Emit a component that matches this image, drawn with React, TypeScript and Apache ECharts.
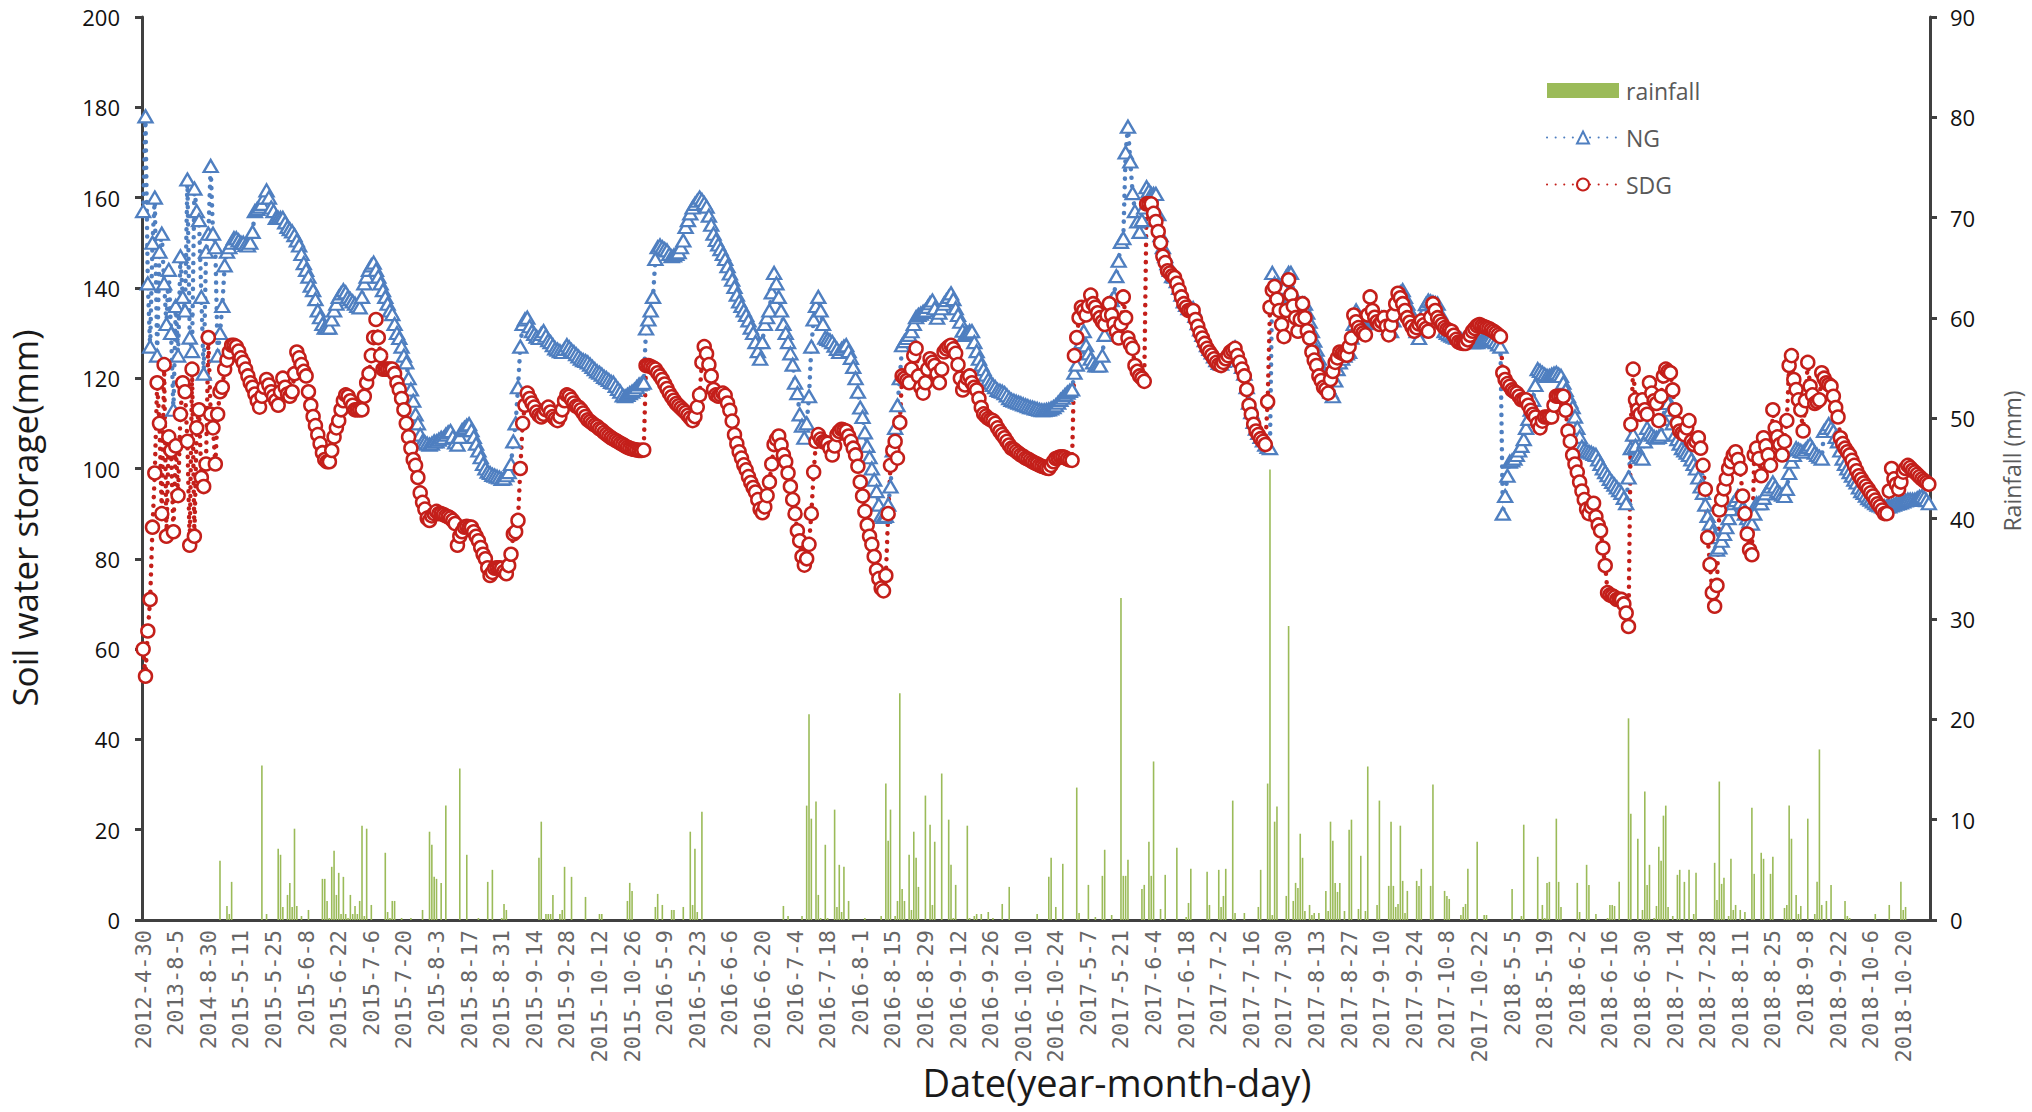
import React, { useEffect, useRef } from "react";
import * as echarts from "echarts";

// ---------- categories ----------
const earlyDates = [
  "2012-4-30", "2012-5-15", "2012-5-30", "2012-6-15", "2012-6-30", "2012-7-15", "2012-7-30",
  "2012-8-15", "2012-8-30", "2012-9-15", "2012-9-30", "2012-10-15", "2012-10-30", "2013-7-30",
  "2013-8-5", "2013-8-10", "2013-8-15", "2013-8-20", "2013-8-25", "2013-8-30", "2013-9-5",
  "2013-9-10", "2013-9-15", "2013-9-20", "2013-9-25", "2013-9-30", "2013-10-5", "2013-10-10",
  "2014-8-30", "2014-9-10", "2014-9-20", "2014-9-30",
];
const seasonYears = [2015, 2016, 2017, 2018];
const seasonMonths = [[5, 31], [6, 30], [7, 31], [8, 31], [9, 30], [10, 31]];
function seasonDates(year: number): string[] {
  const out: string[] = [];
  for (const [m, n] of seasonMonths) for (let d = 1; d <= n; d++) out.push(`${year}-${m}-${d}`);
  return out;
}
const dates: string[] = [...earlyDates, ...seasonYears.flatMap(seasonDates)];

// ---------- NG soil water storage (mm) ----------
const ngEarly = [157,178,141,127,150,160,125,148,152,141,132,144,130,113,136,125,147,138,135,164,129,126,162,157,155,138,121,148,152,167,152,149];
const ng2015 = [
  125,130,136,145,148,149,150,151,151,150.5,
  150,150,149.5,149.4,150,152.4,157,157.5,158,158.6,
  160,161.6,160,157.8,157,155.5,155.5,155.5,155.5,154.5,
  153.5,153,152.5,151.7,150.5,149.4,147.5,145.5,144,142.5,
  140.5,139.5,137.5,135,133.5,132,131.2,131.2,131.2,133,
  135,136.5,138,138.8,139.5,139,138,137.5,137,136.5,
  136,135.7,138,141,142.5,144,145,145.6,144,142.5,
  141,139.5,138,136.5,135,134.2,132,130,128.9,127,
  125,123.5,120,117.5,115,112,110,107.5,106,105.8,
  105.5,105.3,105.5,106,106,106.4,106.8,106.8,107.5,108,
  108.3,107,105.8,105.3,107,108.5,109,109.5,109.8,108.5,
  107,105.5,104,102.5,101,100,99.3,99,98.6,98.4,
  98.2,98,97.7,97.8,98.5,99.2,101,106,110,118,
  127,132,133,133.4,131.5,130.4,129.8,129.2,128.9,129.8,
  130.4,129.4,128.4,128,127.3,126.6,126.3,126,125.8,126.5,
  127.3,126.8,126.2,125.8,125.3,124.8,124.3,124,123.8,123.5,
  123,122.5,122,121.5,121.2,120.8,120.3,120,119.6,119.2,
  119,118.3,117.6,117,116.2,116,116.3,116.7,117,117.4,
  118,118.6,118.8,119,
];
const ng2016 = [
  131,133,135,138,146.4,149,149.4,149,148.6,148.3,
  147.5,147,147.2,147.5,147.9,149,150.5,153.5,155,156.5,
  157.8,158.6,159.3,160,159.5,158.8,158,156,154,152,
  150.6,149.6,148.6,147.5,146.4,144.8,143.2,141.8,140.2,138.5,
  137,136,135,134,132.8,131.2,130,128,126,124.3,
  128,132,133.5,135,139,143.3,141,138,135,132,
  130,128,125.5,123,119,116.7,112,109.5,106.8,110,
  116,127,133,136,138,135,132,129,128.7,128.4,
  128,127.2,126.5,125.8,126.5,127,127.3,126,124.5,122.5,
  120,117,113.5,111.4,108,105,102.5,100,97.5,95,
  92,89.6,89.3,89.5,92,96,104,109,114,120,
  127.3,128.2,128.9,129.6,130.4,132,133.5,134,134.3,134.7,
  135,135.8,136.6,137.2,135.5,133.4,134.5,135.5,136.5,137.3,
  138,138.8,137.5,135.5,134,132.5,130.5,129.6,130,130.4,
  130.4,128,126,124.3,123,122,120.8,119.7,119,118.5,
  118,117.4,117.2,117,116.7,116.2,115.6,115.2,115,114.8,
  114.6,114.4,114.2,114,113.8,113.6,113.5,113.3,113.2,113,
  112.9,112.9,113,113.1,113.3,113.6,114,114.6,115.2,115.7,
  116.3,116.8,117.2,117.5,
];
const ng2017 = [
  121.2,123,125.8,128,130.4,127.3,125.5,124.3,123.5,122.8,
  122.8,122.8,125,129.6,133,136.5,137.3,138,142.6,146,
  150.2,151,170,175.7,168,161,157,154.7,152.4,155,
  157.8,162.3,161.5,160.8,160.8,160.8,156.3,151.7,149,147,
  145.5,144,142.6,142.5,141.5,140,138.5,137,136.2,135.5,
  135.5,135.5,133.8,132.2,130.8,129.6,128.4,127.3,126.5,125.7,
  124.8,124,123.4,123.2,123.8,124.6,125.3,126,126.5,126.8,
  125.5,124,122.5,121,118,114.6,112.5,110.3,108.8,107.9,
  107,106.2,105.3,104.8,104.5,143.3,141,139.5,138,136.5,
  140,142.5,143.3,143.3,138.8,134,135,136,136.5,136.5,
  134.5,132.5,130.4,128.3,126.3,124.3,122.5,120.7,119,118,
  117,116,119.5,122,123.5,124.3,125,125.5,125.8,129,
  132,135,134,133,132,132.2,132.4,132.6,132.7,132.9,
  133.1,133.3,133.4,132.6,131.8,131.1,130.4,132.8,135,137.5,
  139,139.5,138,136.5,135,134,132,130.4,128.9,131.6,
  134.4,136.4,137.2,137,136.8,136.6,136.5,134.5,132.5,130.4,
  130,129.7,129.4,129.2,129,128.9,128.7,128.5,128.3,128.2,
  128.1,128,128,128,128.2,128.4,128.6,128.8,128.9,128.9,
  128.5,128,127.5,127,
];
const ng2018 = [
  90,93.9,98.4,101.5,101.8,102.2,103,104,105,106.5,
  109,111,113,115.2,118.5,122,121.6,121.2,120.8,120.5,
  120.5,120.8,121,121.2,120.8,120.5,119,117.4,116,114.8,
  113.6,111.5,109,107,104.8,104.2,103.9,103.7,103.5,103.2,
  103,102,101,100,99.2,98.5,97.7,97,96.4,95.8,
  95.2,94.6,93.5,92.3,98,104.5,107.5,105,103,102.5,
  102.2,106,109,108,107.5,107,106.8,107,107.5,111,
  116,114.5,113,110,107.5,106.5,105.5,104.5,104,103.5,
  103,102,101,100,98,96,94.6,92,89.5,87.8,
  86,84.8,82,82.5,84,85.5,87,89,91,92.3,
  93,93.9,92.5,91.2,90,89,88.3,87.8,90,92.3,
  92.3,92.3,93.5,94.5,95.4,96,96.9,96,95,94.6,
  94.2,93.9,95.5,99,101.5,103,104.5,104.2,103.9,103.7,
  104.2,104.8,105.3,104.5,103.5,103,102.6,102.2,108.3,109,
  109.8,109,108.3,107,106,104,102.2,101,100,99.2,
  98.4,97.5,96.9,95.8,95,94.6,94,93.4,93.1,92.7,
  92.3,92,91.8,91.6,91.6,91.6,91.6,91.8,92,92.2,
  92.3,92.5,92.7,92.9,93.1,93.1,93.1,93.1,93.4,93.7,
  93.9,93.6,93,92.3,
];

// ---------- SDG soil water storage (mm) ----------
const sdgEarly = [60,54,64,71,87,99,119,110,90,123,85,107,104,86,105,94,112,119,117,106,83,122,85,109,113,98,96,101,129,112,109,101];
const sdg2015 = [
  112,117,118,122,124,125.8,127.3,127.3,127,126,
  124.5,123.5,122,120.5,119,118,116.5,115,113.6,116,
  118,119.7,118.5,117,116,115,114,117,120,118,
  116.5,116,117,121,125.8,124.5,123,121.5,120.5,117,
  114,111.5,109.5,107.5,105.5,103.5,102,101.5,101.5,104,
  107,109,110.6,113,115,116.3,116,115,114,113,
  113,113,113,116,119,121,125,129,133,129,
  125,122,122,122,122,122,121,119,117.5,115.5,
  113,110,107,104.5,102,100.7,98,94.6,92.5,91,
  89,88.5,89.5,90,90.5,90,90,89.8,89.5,89.3,
  89,88.5,87.8,83,85,86,87,87.2,87,87,
  86,85,84,82.5,81,80,78,76.3,77,77.9,
  78,78,77.9,77.2,76.7,78.5,81,85.5,86,88.5,
  100,110,114,116.7,115.5,114.5,113.6,112.5,111.8,111.4,
  112,113,113.6,112.5,111.5,111,110.6,111.5,113,115,
  116.3,116,115.3,114.5,113.8,113.6,113,112.3,111.5,110.8,
  110.4,110,109.6,109.3,108.8,108.5,108,107.6,107.2,106.8,
  106.5,106.2,105.9,105.6,105.3,105,104.7,104.5,104.3,104.2,
  104.1,104,104,104.1,
];
const sdg2016 = [
  122.8,122.8,122.6,122.3,122,121.2,120.5,119.7,118.7,117.7,
  116.7,115.9,115.1,114.4,113.9,113.4,112.9,112.4,111.8,111.2,
  110.6,111.5,113.6,116.3,123.5,127,125.4,123,120.5,117.5,
  116.3,116,116.3,116.7,116.2,114.5,112.9,110.5,107.5,105.5,
  103.7,102.3,100.8,99.7,98.2,96.9,95.8,94.8,93.1,91,
  90.2,91.5,94,97,101,105.3,106.5,107.2,105.2,103,
  101.5,99,96,93.1,90,86.2,84,80.5,78.6,80,
  83.2,90,99.2,106,107.5,106.5,105.9,105.8,105.6,104.5,
  103,105,107.5,108.2,108.7,108.5,108.3,107.2,106,104.5,
  103,100.5,97,93.9,90.5,87.5,85,83.2,80.5,77.5,
  75.6,73.5,72.9,76.3,90,100.7,104,106,102.3,110.2,
  120.5,120,119.5,119,122,125,126.6,120.5,118,116.7,
  119,122,124.3,123.5,122.8,121,119,122,125.8,126.5,
  127,127.3,126.5,125.5,123,120,117.4,118.5,120,120.5,
  119,118,117.4,115.5,113.5,112.1,111.6,111.1,110.8,110.6,
  110,109,108.2,107.5,106.8,106,105.2,104.5,104.2,103.8,
  103.4,103,102.7,102.3,102.1,101.8,101.5,101.2,101,100.7,
  100.5,100.3,100.1,100,100.7,101.5,102.2,102.4,102.6,102.6,
  102.4,102.1,101.9,101.8,
];
const sdg2017 = [
  125,129,133.4,135.7,135,134,136,138.4,136.5,135.7,
  134.5,133.4,132.5,131.9,134,136.5,134,132,130.4,128.9,
  132,138,133.4,128.9,127.5,126.6,122.8,121.5,120.5,120,
  119.3,158.6,158.6,158.6,156.5,154.7,152.5,150,147,145.6,
  143.8,143.3,142.7,142.3,141,139.5,138,136.5,135.7,135,
  135,135,133,131.5,130,128.9,127.7,126.6,125.8,125.1,
  124.3,123.5,123,122.8,123.5,124.3,125,125.8,126.2,126.6,
  125,123.5,122,120.5,117.5,114,112,109.8,108.3,107.5,
  106.6,106,105.3,114.8,135.7,139.5,140.3,137.5,135,131.9,
  129.2,135,141.8,138.5,136,133.4,130.4,133,136.5,133.4,
  130.5,128.9,125.8,124,122.8,120.5,119.5,118,117.5,116.7,
  119.7,121.5,123.5,124.5,125.8,125.5,125.3,125.1,127,128.9,
  134,132.5,131.2,130.5,130,129.6,134,138,135,133.5,
  132.5,131.9,132.5,133.4,131.5,129.6,131.8,134,136.5,138.8,
  137.8,136.5,135,133.4,132.4,131.4,130.4,131.2,132,132.7,
  131.8,131,130.4,133.5,136.5,135,133.4,132.6,131.9,131.2,
  130.8,130.6,130.4,129.5,128.6,128,127.8,127.7,127.7,128.5,
  129.5,130.4,131,131.6,131.9,131.6,131.4,131.2,131,130.7,
  130.4,130,129.6,129.2,
];
const sdg2018 = [
  121.2,119.7,118.8,118.2,117.4,117,116.7,116,115.2,115.2,
  115.2,114,112.9,112,111.4,110,109,110.5,111.4,111.4,
  111.4,111.4,114,116,116,116,116,112.9,108.3,106,
  103,101,99.2,97,95,93.1,91,90,91.5,92.3,
  89.3,87.5,86.2,82.4,78.5,72.5,72,71.8,71.5,71,
  71,71,70,68,65,109.8,122,115.2,113,112,
  115.2,113,112,119,116.7,115,114.4,110.6,116,120.5,
  122,121.5,121.2,117.4,113,110,108.3,107.8,107.5,109,
  110.6,106,105.3,106,106.8,104.5,100.7,95.4,84.7,78.7,
  72.5,69.5,74.1,90.8,93.1,95.5,97.7,100,101.5,103,
  103.7,102,100,93.9,90,85.5,82,80.9,103,104.5,
  102.2,98.4,106.8,105,103,100.7,113,109,107,105.3,
  103,106,110.6,122.8,125,119.7,117.5,115.2,113,108.3,
  115,123.5,118.2,116.3,114.4,114.8,115.2,121.2,120,119,
  118.6,118.2,116,113.5,111.4,106.8,105.5,104.5,103.7,103,
  101.8,100.7,99.5,98.4,97.6,96.8,96.1,95.4,94.6,93.9,
  93,92.2,91.6,90.8,90,90,95,100,97.7,96.5,
  95.4,97,99.2,100,100.7,100.2,99.6,99.2,98.7,98.2,
  97.7,97.3,96.9,96.5,
];

// ---------- rainfall (mm): [position in dates, amount] ----------
const rain2015 = [[33,5.9],[36,1.4],[37,0.6],[38,3.8],[51,15.4],[53,0.6],[58,7.1],[59,6.5],[60,1.3],[62,2.5],[63,3.7],[64,1.3],[65,9.1],[66,1.4],[68,0.4],[71,1],[77,4.1],[78,4.1],[79,1.9],[80,0.2],[81,5.3],[82,6.9],[83,2.5],[84,4.7],[85,0.6],[86,4.3],[87,0.6],[88,0.2],[89,2.5],[90,0.6],[91,1.4],[92,0.6],[93,1.9],[94,9.4],[95,0.4],[96,9.1],[98,1.5],[104,6.7],[105,0.8],[106,0.2],[107,1.9],[108,1.9],[111,0.2],[115,0.2],[120,1],[123,8.8],[124,7.5],[125,4.3],[126,4.1],[128,3.7],[130,11.4],[136,15.1],[139,6.5],[144,0.2],[148,3.8],[150,5],[154,0.2],[155,1.6],[156,1],[170,6.2],[171,9.8],[173,0.6],[174,0.6],[175,0.6],[176,2.5],[179,0.6],[180,1],[181,5.3],[184,4.3],[190,2.3],[196,0.6],[197,0.6],[208,1.9],[209,3.7],[210,2.9]];
const rain2016 = [[220,1.3],[221,2.6],[223,1.5],[227,1],[228,1],[232,1.3],[235,8.8],[236,1.5],[237,7.1],[238,0.8],[240,10.8],[275,1.4],[277,0.4],[283,0.4],[285,11.4],[286,20.5],[287,10.1],[289,11.8],[290,2.5],[291,0.2],[293,7.5],[294,0.2],[297,11],[298,1.3],[299,5.5],[300,0.8],[301,5.3],[303,1.9],[310,0.2],[317,0.4],[319,13.6],[320,7.9],[321,11],[323,0.4],[324,1.9],[325,22.6],[326,3.1],[327,1.9],[329,6.5],[330,1],[331,8.8],[332,6.2],[333,3.3],[336,12.4],[338,9.5],[339,1.5],[340,7.8],[343,14.6],[346,10],[347,5.5],[348,0.2],[349,3.5],[354,9.4],[355,0.2],[357,0.4],[358,0.6],[360,0.6],[363,0.8],[365,0.2],[369,1.6],[372,3.3],[384,0.6],[389,4.3],[390,6.2],[392,1.3],[395,5.6]];
const rain2017 = [[401,13.2],[402,0.7],[406,3.5],[409,0.3],[412,4.4],[413,7],[416,0.5],[420,32.1],[421,4.4],[422,4.4],[423,6],[429,3.1],[430,3.5],[432,7.8],[433,4.4],[434,15.8],[437,1.1],[439,4.5],[444,7.2],[448,0.3],[449,1.7],[450,5.1],[457,4.8],[458,1.5],[462,5],[463,1.3],[464,2.4],[465,5.1],[468,11.9],[469,0.7],[473,0.7],[479,1.3],[480,5],[483,13.6],[484,44.9],[485,0.5],[486,9.8],[487,11.3],[491,2.4],[492,29.3],[494,1.9],[495,3.7],[496,3.2],[497,8.6],[498,6.2],[499,0.9],[501,1.5],[502,0.5],[503,0.7],[505,0.7],[508,2.9],[509,0.9],[510,9.8],[511,7.9],[512,3.7],[513,2.8],[514,3.7],[516,0.9],[518,9],[519,10],[522,1.1],[523,6.4],[525,0.9],[526,15.3],[530,1.5],[531,11.9],[535,3.4],[536,9.8],[537,3.4],[538,1.3],[539,1.6],[540,9.4],[541,3.9],[542,0.7],[543,2.9],[547,3.9],[548,3.4],[549,5.1],[553,3.4],[554,13.5],[559,2.9],[560,2.4],[561,2.1],[566,0.5],[567,1.3],[568,1.6],[569,5.1],[573,7.8],[576,0.5],[577,0.5]];
const rain2018 = [[588,3.1],[592,0.4],[593,9.5],[599,6.3],[601,1.5],[602,0.2],[603,3.7],[604,3.8],[607,10.1],[608,3.8],[609,1.3],[616,3.7],[617,0.8],[620,5.5],[621,3.5],[624,0.6],[629,0.2],[630,1.5],[631,1.5],[632,1.4],[634,3.8],[638,20.1],[639,10.6],[642,8.1],[644,1],[645,12.8],[646,3.5],[647,5.5],[649,0.2],[650,1.4],[651,7.3],[652,5.9],[653,10.4],[654,11.4],[655,1.3],[657,0.4],[659,4.5],[660,5],[662,3.8],[664,5],[666,0.6],[667,4.7],[675,5.7],[676,2],[677,13.8],[678,3.6],[679,4.2],[681,0.4],[682,6.1],[683,1],[684,1.5],[686,1],[688,0.8],[691,11.2],[692,4.6],[695,6.7],[696,6.1],[699,4.6],[700,6.3],[705,1.2],[706,1.5],[707,11.4],[708,8.1],[710,2.5],[711,0.6],[712,1.4],[715,10.1],[718,0.6],[719,3.8],[720,17],[721,1.5],[723,1.9],[725,3.5],[731,1.9],[732,0.4],[733,0.2],[744,0.6],[750,1.5],[755,3.8],[756,1],[757,1.3]];

const ng = [...ngEarly, ...ng2015, ...ng2016, ...ng2017, ...ng2018];
const sdg = [...sdgEarly, ...sdg2015, ...sdg2016, ...sdg2017, ...sdg2018];
const rainfall: number[] = dates.map(() => 0);
for (const [i, v] of [...rain2015, ...rain2016, ...rain2017, ...rain2018]) rainfall[i] = v;

const leftTicks = { min: 0, max: 200, interval: 20 };
const rightTicks = { min: 0, max: 90, interval: 10 };

const BLUE = "#4F7FC0";
const RED = "#C41F1A";
const GREEN = "#9BBB59";
const AXIS = "#404040";
const SANS = "'Open Sans', 'Liberation Sans', sans-serif";

export default function App() {
  const ref = useRef<HTMLDivElement>(null);
  useEffect(() => {
    document.body.style.margin = "0";
    const chart = echarts.init(ref.current!, null, { renderer: "svg" });
    chart.setOption({
      animation: false,
      backgroundColor: "#ffffff",
      grid: { left: 142, right: 102, top: 17, bottom: 192, containLabel: false },
      legend: {
        orient: "vertical",
        left: 1541,
        top: 74,
        itemWidth: 72,
        itemHeight: 15,
        itemGap: 24,
        textStyle: { fontFamily: SANS, fontSize: 23, color: "#595959", padding: [0, 0, 0, 2] },
        data: [{ name: "rainfall", icon: "rect" }, "NG", "SDG"],
      },
      xAxis: {
        type: "category",
        data: dates,
        boundaryGap: true,
        axisLine: { show: true, lineStyle: { color: AXIS, width: 3 } },
        axisTick: { show: false },
        axisLabel: {
          interval: 13,
          rotate: 90,
          margin: 10,
          fontFamily: "'DejaVu Sans Mono', monospace",
          fontSize: 22,
          color: "#666666",
        },
        splitLine: { show: false },
      },
      yAxis: [
        {
          type: "value",
          ...leftTicks,
          axisLine: { show: true, lineStyle: { color: AXIS, width: 3 } },
          axisTick: { show: true, length: 7, lineStyle: { color: AXIS, width: 3 } },
          axisLabel: { margin: 22, fontFamily: SANS, fontSize: 22, color: "#111" },
          splitLine: { show: false },
        },
        {
          type: "value",
          position: "right",
          ...rightTicks,
          axisLine: { show: true, lineStyle: { color: AXIS, width: 3 } },
          axisTick: { show: true, length: 7, lineStyle: { color: AXIS, width: 3 } },
          axisLabel: { margin: 20, fontFamily: SANS, fontSize: 22, color: "#111" },
          splitLine: { show: false },
        },
      ],
      series: [
        {
          name: "rainfall",
          type: "bar",
          yAxisIndex: 1,
          data: rainfall,
          barWidth: 1.6,
          itemStyle: { color: GREEN },
          silent: true,
        },
        {
          name: "NG",
          type: "line",
          data: ng,
          symbol: "triangle",
          symbolSize: [14, 12],
          showAllSymbol: true,
          lineStyle: { color: BLUE, width: 4.5, type: [0.1, 8.5], cap: "round" },
          itemStyle: { color: "#ffffff", borderColor: BLUE, borderWidth: 2.3 },
          silent: true,
        },
        {
          name: "SDG",
          type: "line",
          data: sdg,
          symbol: "circle",
          symbolSize: 13,
          showAllSymbol: true,
          lineStyle: { color: RED, width: 4.5, type: [0.1, 8.5], cap: "round" },
          itemStyle: { color: "#ffffff", borderColor: RED, borderWidth: 2.5 },
          silent: true,
        },
      ],
      graphic: [
        {
          type: "text",
          x: 24,
          y: 518,
          rotation: Math.PI / 2,
          style: {
            text: "Soil water storage(mm)",
            fontFamily: SANS,
            fontSize: 35,
            fill: "#1a1a1a",
            align: "center",
            verticalAlign: "middle",
          },
        },
        {
          type: "text",
          x: 1117,
          y: 1082,
          style: {
            text: "Date(year-month-day)",
            fontFamily: SANS,
            fontSize: 38,
            fill: "#1a1a1a",
            align: "center",
            verticalAlign: "middle",
          },
        },
        {
          type: "text",
          x: 2012,
          y: 461,
          rotation: Math.PI / 2,
          style: {
            text: "Rainfall (mm)",
            fontFamily: SANS,
            fontSize: 23,
            fill: "#595959",
            align: "center",
            verticalAlign: "middle",
          },
        },
      ],
    });
    return () => chart.dispose();
  }, []);
  return <div ref={ref} style={{ position: "absolute", left: 0, top: 0, width: 2032, height: 1112 }} />;
}
